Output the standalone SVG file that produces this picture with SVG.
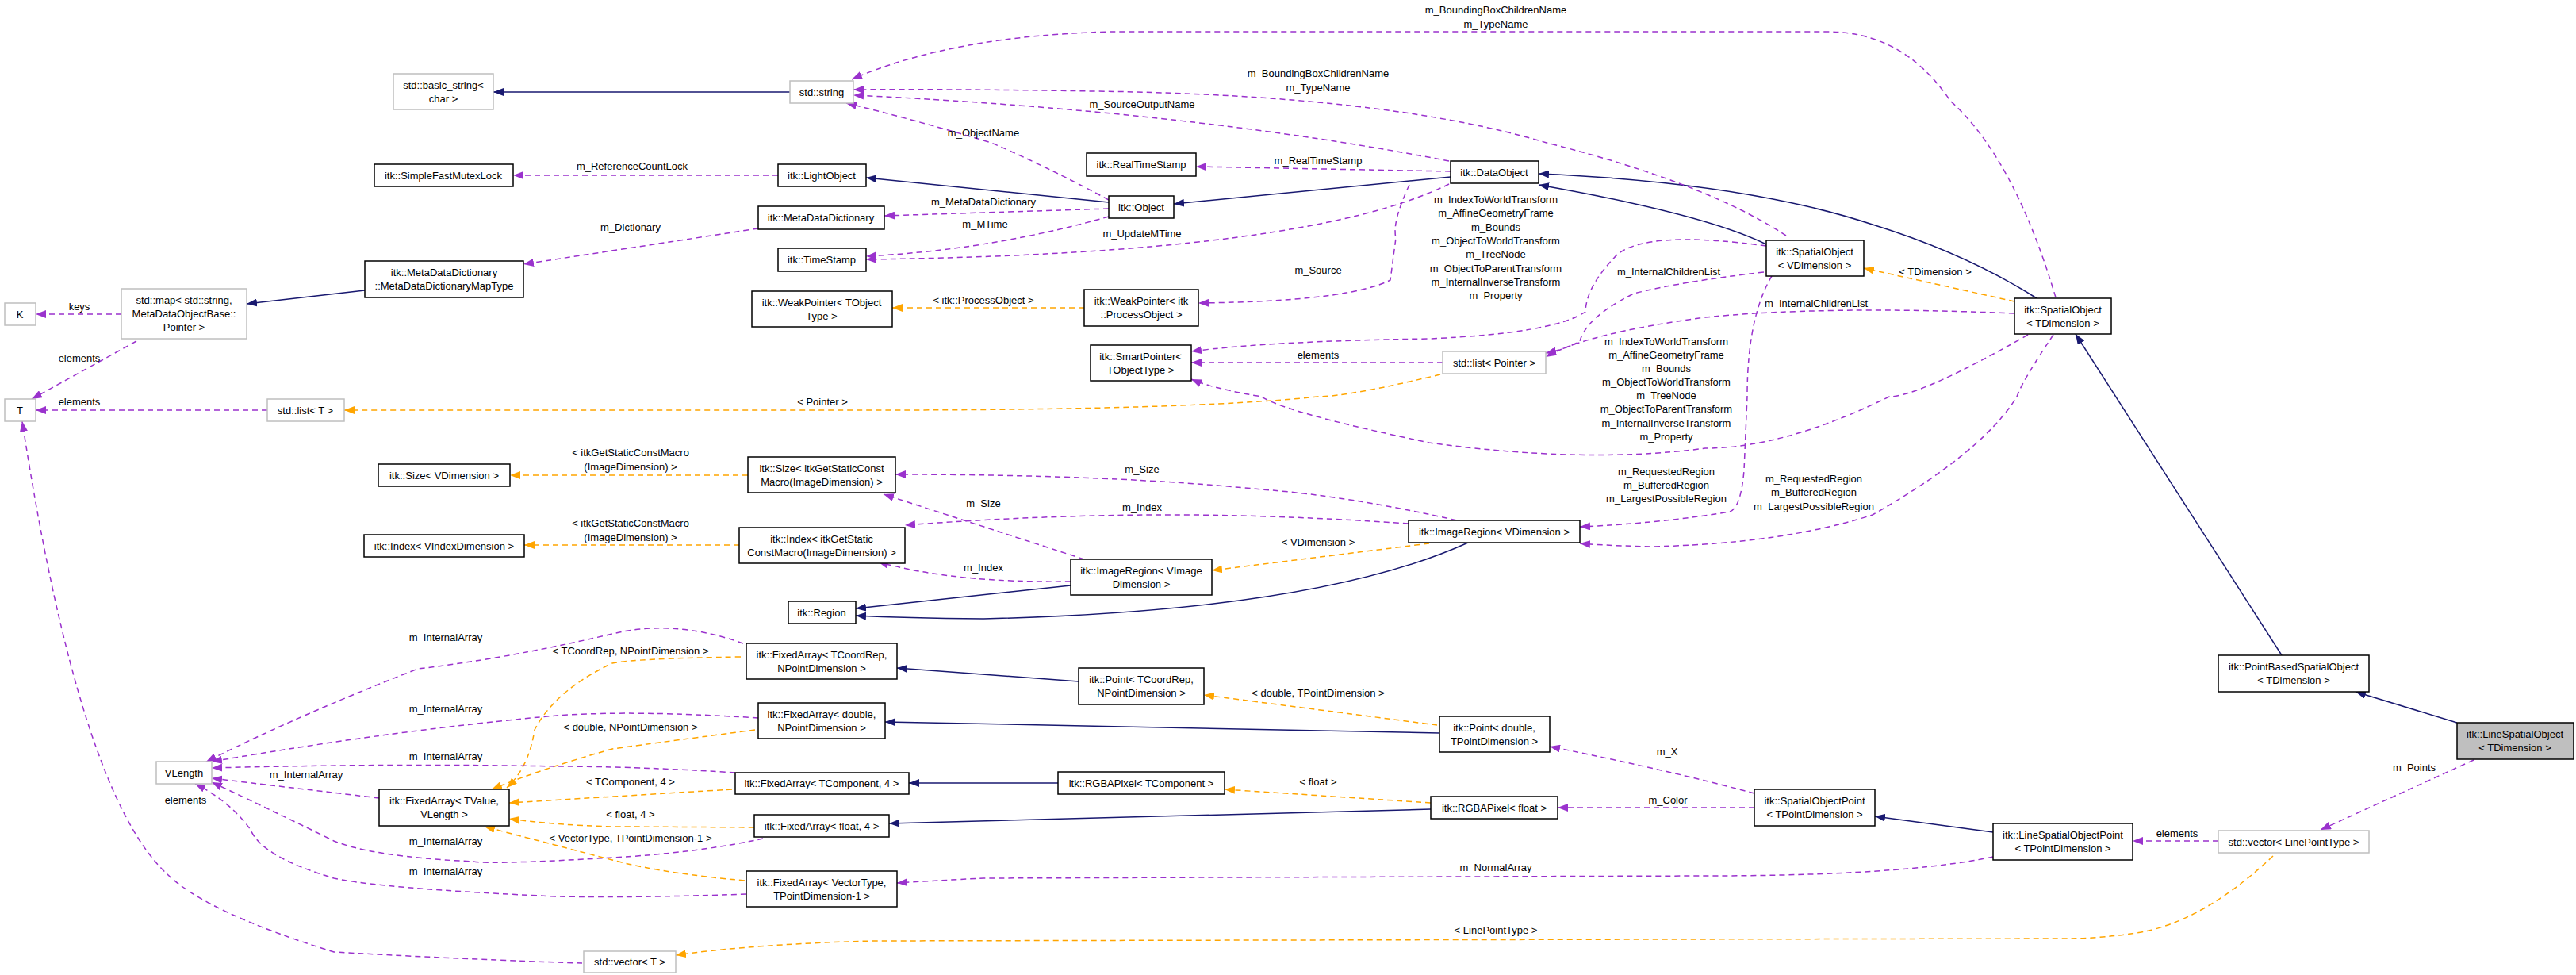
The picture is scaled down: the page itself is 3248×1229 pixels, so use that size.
<svg xmlns="http://www.w3.org/2000/svg" width="3248" height="1229" viewBox="0 0 3248 1229">
<style>
text{font-family:"Liberation Sans",Arial,sans-serif;font-size:13px;fill:#000;text-anchor:middle}
.n rect{fill:#fff;stroke:#000;stroke-width:1.5}
.g rect{fill:#fff;stroke:#bfbfbf;stroke-width:1.5}
.h rect{fill:#bfbfbf;stroke:#000;stroke-width:1.5}
.i{fill:none;stroke:#191970;stroke-width:1.5;marker-end:url(#ai)}
.u{fill:none;stroke:#9a32cd;stroke-width:1.5;stroke-dasharray:7,5;marker-end:url(#au)}
.t{fill:none;stroke:#ffa500;stroke-width:1.5;stroke-dasharray:7,5;marker-end:url(#at)}
</style>
<defs>
<marker id="ai" markerUnits="userSpaceOnUse" markerWidth="14" markerHeight="10" refX="13" refY="5" orient="auto"><path d="M0,0L13,5L0,10z" fill="#191970"/></marker>
<marker id="au" markerUnits="userSpaceOnUse" markerWidth="14" markerHeight="10" refX="13" refY="5" orient="auto"><path d="M0,0L13,5L0,10z" fill="#9a32cd"/></marker>
<marker id="at" markerUnits="userSpaceOnUse" markerWidth="14" markerHeight="10" refX="13" refY="5" orient="auto"><path d="M0,0L13,5L0,10z" fill="#ffa500"/></marker>
</defs>
<rect width="3248" height="1229" fill="#fff"/>
<g id="edges">
<path class="i" d="M996,116L622,116"/>
<path class="i" d="M1398,255L1092,224"/>
<path class="i" d="M1829,223L1480,257"/>
<path class="i" d="M2227,308Q2150,270 1940,233"/>
<path class="i" d="M2568,376Q2480,320 2361,283Q2200,230 1940,219"/>
<path class="i" d="M2877,826L2617,421"/>
<path class="i" d="M3098,911L2970,872"/>
<path class="i" d="M1851,684Q1662,770 1240,780Q1140,779 1079,776"/>
<path class="i" d="M1350,738L1079,767"/>
<path class="i" d="M1360,859L1131,842"/>
<path class="i" d="M1815,924L1116,910"/>
<path class="i" d="M1334,987L1146,987"/>
<path class="i" d="M1804,1020L1121,1038"/>
<path class="i" d="M2513,1049L2364,1029"/>
<path class="i" d="M460,366L311,383"/>
<path class="u" d="M981,221L647,221"/>
<path class="u" d="M1398,263L1115,272"/>
<path class="u" d="M956,288L660,333"/>
<path class="u" d="M1398,273Q1250,315 1092,323"/>
<path class="u" d="M1827,232Q1650,320 1092,327"/>
<path class="u" d="M1398,252Q1320,210 1250,180Q1150,150 1067,130"/>
<path class="u" d="M1827,203Q1500,140 1076,120"/>
<path class="u" d="M2252,297Q2150,230 1950,180Q1750,120 1381,115Q1200,112 1076,113"/>
<path class="u" d="M2592,375Q2540,200 2459,127Q2400,40 2304,40L1402,40Q1200,45 1074,100"/>
<path class="u" d="M1829,216L1508,210"/>
<path class="u" d="M1777,233Q1755,280 1760,300L1753,353Q1700,380 1511,382"/>
<path class="t" d="M1367,388L1125,388"/>
<path class="u" d="M2227,310Q2080,290 2040,320Q2000,360 1999,393Q1960,420 1802,427Q1600,430 1502,443"/>
<path class="u" d="M2224,343Q2120,355 2060,370Q2000,400 1992,430Q1975,440 1949,445"/>
<path class="u" d="M2540,395Q2300,385 2150,400Q2000,420 1949,450"/>
<path class="u" d="M2557,422Q2420,500 2382,500Q2250,565 2150,565Q2000,585 1802,558Q1620,520 1591,500Q1530,490 1502,478"/>
<path class="u" d="M1819,457L1502,457"/>
<path class="t" d="M1816,472Q1700,500 1661,500Q1500,517 1100,517L434,517"/>
<path class="u" d="M337,517L45,517"/>
<path class="u" d="M172,430L40,503"/>
<path class="u" d="M153,396L45,396"/>
<path class="u" d="M1837,656Q1700,625 1591,617Q1400,598 1129,598"/>
<path class="u" d="M1776,660Q1600,648 1451,649Q1300,650 1141,662"/>
<path class="u" d="M1367,705L1114,623"/>
<path class="u" d="M1350,733Q1200,735 1107,708"/>
<path class="t" d="M1802,685L1528,719"/>
<path class="t" d="M943,599L643,599"/>
<path class="t" d="M932,687L661,687"/>
<path class="u" d="M2234,348Q2203,400 2203,500L2199,593Q2195,640 2181,645Q2090,660 1992,664"/>
<path class="u" d="M2589,422Q2550,480 2543,500Q2500,570 2361,649Q2250,685 2083,689Q2030,688 1992,685"/>
<path class="t" d="M2540,380L2350,338"/>
<path class="u" d="M937,811Q850,780 772,799Q640,830 527,843Q380,900 260,960"/>
<path class="t" d="M934,828Q800,830 772,836Q700,870 674,920Q667,967 639,993"/>
<path class="u" d="M956,905Q800,895 702,902Q500,920 267,960"/>
<path class="t" d="M952,920Q800,940 772,944Q680,970 620,995"/>
<path class="u" d="M927,974Q800,966 702,966Q500,962 267,968"/>
<path class="t" d="M923,995L642,1012"/>
<path class="u" d="M962,1057Q880,1075 772,1081Q620,1090 597,1086Q470,1080 421,1060Q340,1020 267,986"/>
<path class="t" d="M951,1043Q800,1042 772,1042Q700,1040 642,1032"/>
<path class="u" d="M941,1127Q800,1132 702,1130Q480,1120 421,1107Q330,1080 316,1046Q290,1010 246,988"/>
<path class="t" d="M939,1110Q830,1100 772,1084Q680,1060 611,1042"/>
<path class="u" d="M478,1006L267,981"/>
<path class="u" d="M734,1214Q600,1210 421,1200Q260,1150 211,1102Q100,1000 28,531"/>
<path class="t" d="M2866,1079Q2780,1160 2700,1175Q2650,1183 2606,1183L1100,1186Q950,1190 852,1204"/>
<path class="u" d="M3119,958L2926,1046"/>
<path class="u" d="M2797,1060L2689,1060"/>
<path class="u" d="M2212,1000Q2100,970 1954,941"/>
<path class="u" d="M2212,1018L1964,1018"/>
<path class="u" d="M2513,1080Q2400,1104 2150,1104L1240,1107Q1180,1110 1131,1113"/>
<path class="t" d="M1812,914L1518,876"/>
<path class="t" d="M1804,1012L1544,995"/>
</g>
<g id="labels">
<text x="797" y="214">m_ReferenceCountLock</text>
<text x="1240" y="259">m_MetaDataDictionary</text>
<text x="795" y="291">m_Dictionary</text>
<text x="1242" y="287">m_MTime</text>
<text x="1440" y="299">m_UpdateMTime</text>
<text x="1240" y="172">m_ObjectName</text>
<text x="1440" y="136">m_SourceOutputName</text>
<text x="1662" y="97">m_BoundingBoxChildrenName</text>
<text x="1662" y="115">m_TypeName</text>
<text x="1886" y="17">m_BoundingBoxChildrenName</text>
<text x="1886" y="35">m_TypeName</text>
<text x="1662" y="207">m_RealTimeStamp</text>
<text x="1662" y="345">m_Source</text>
<text x="1240" y="383">&lt; itk::ProcessObject &gt;</text>
<text x="1886" y="256">m_IndexToWorldTransform</text>
<text x="1886" y="273">m_AffineGeometryFrame</text>
<text x="1886" y="291">m_Bounds</text>
<text x="1886" y="308">m_ObjectToWorldTransform</text>
<text x="1886" y="325">m_TreeNode</text>
<text x="1886" y="343">m_ObjectToParentTransform</text>
<text x="1886" y="360">m_InternalInverseTransform</text>
<text x="1886" y="377">m_Property</text>
<text x="2104" y="347">m_InternalChildrenList</text>
<text x="2290" y="387">m_InternalChildrenList</text>
<text x="2101" y="435">m_IndexToWorldTransform</text>
<text x="2101" y="452">m_AffineGeometryFrame</text>
<text x="2101" y="469">m_Bounds</text>
<text x="2101" y="486">m_ObjectToWorldTransform</text>
<text x="2101" y="503">m_TreeNode</text>
<text x="2101" y="520">m_ObjectToParentTransform</text>
<text x="2101" y="538">m_InternalInverseTransform</text>
<text x="2101" y="555">m_Property</text>
<text x="1662" y="452">elements</text>
<text x="1037" y="511">&lt; Pointer &gt;</text>
<text x="100" y="511">elements</text>
<text x="100" y="456">elements</text>
<text x="100" y="391">keys</text>
<text x="1440" y="596">m_Size</text>
<text x="1440" y="644">m_Index</text>
<text x="1240" y="639">m_Size</text>
<text x="1240" y="720">m_Index</text>
<text x="1662" y="688">&lt; VDimension &gt;</text>
<text x="795" y="575">&lt; itkGetStaticConstMacro</text>
<text x="795" y="593">(ImageDimension) &gt;</text>
<text x="795" y="664">&lt; itkGetStaticConstMacro</text>
<text x="795" y="682">(ImageDimension) &gt;</text>
<text x="2101" y="599">m_RequestedRegion</text>
<text x="2101" y="616">m_BufferedRegion</text>
<text x="2101" y="633">m_LargestPossibleRegion</text>
<text x="2287" y="608">m_RequestedRegion</text>
<text x="2287" y="625">m_BufferedRegion</text>
<text x="2287" y="643">m_LargestPossibleRegion</text>
<text x="2440" y="347">&lt; TDimension &gt;</text>
<text x="562" y="808">m_InternalArray</text>
<text x="795" y="825">&lt; TCoordRep, NPointDimension &gt;</text>
<text x="562" y="898">m_InternalArray</text>
<text x="795" y="921">&lt; double, NPointDimension &gt;</text>
<text x="562" y="958">m_InternalArray</text>
<text x="386" y="981">m_InternalArray</text>
<text x="795" y="990">&lt; TComponent, 4 &gt;</text>
<text x="795" y="1031">&lt; float, 4 &gt;</text>
<text x="562" y="1065">m_InternalArray</text>
<text x="795" y="1061">&lt; VectorType, TPointDimension-1 &gt;</text>
<text x="562" y="1103">m_InternalArray</text>
<text x="234" y="1013">elements</text>
<text x="1886" y="1177">&lt; LinePointType &gt;</text>
<text x="3044" y="972">m_Points</text>
<text x="2745" y="1055">elements</text>
<text x="2102" y="952">m_X</text>
<text x="2103" y="1013">m_Color</text>
<text x="1886" y="1098">m_NormalArray</text>
<text x="1662" y="878">&lt; double, TPointDimension &gt;</text>
<text x="1662" y="990">&lt; float &gt;</text>
</g>
<g id="n_basic" class="g"><rect x="496" y="93" width="126" height="45"/><text x="559" y="112">std::basic_string&lt;</text><text x="559" y="129">char &gt;</text></g>
<g id="n_string" class="g"><rect x="996" y="102" width="80" height="28"/><text x="1036" y="121">std::string</text></g>
<g id="n_mutex" class="n"><rect x="472" y="207" width="175" height="28"/><text x="559" y="226">itk::SimpleFastMutexLock</text></g>
<g id="n_light" class="n"><rect x="981" y="207" width="111" height="28"/><text x="1036" y="226">itk::LightObject</text></g>
<g id="n_mdd" class="n"><rect x="956" y="260" width="159" height="29"/><text x="1035" y="279">itk::MetaDataDictionary</text></g>
<g id="n_ts" class="n"><rect x="981" y="313" width="111" height="29"/><text x="1036" y="332">itk::TimeStamp</text></g>
<g id="n_wp" class="n"><rect x="948" y="367" width="177" height="45"/><text x="1036" y="386">itk::WeakPointer&lt; TObject</text><text x="1036" y="403">Type &gt;</text></g>
<g id="n_maptype" class="n"><rect x="460" y="329" width="200" height="46"/><text x="560" y="348">itk::MetaDataDictionary</text><text x="560" y="365">::MetaDataDictionaryMapType</text></g>
<g id="n_map" class="g"><rect x="153" y="364" width="158" height="63"/><text x="232" y="383">std::map&lt; std::string,</text><text x="232" y="400">MetaDataObjectBase::</text><text x="232" y="417">Pointer &gt;</text></g>
<g id="n_K" class="g"><rect x="6" y="382" width="39" height="28"/><text x="25" y="401">K</text></g>
<g id="n_rts" class="n"><rect x="1370" y="193" width="138" height="29"/><text x="1439" y="212">itk::RealTimeStamp</text></g>
<g id="n_data" class="n"><rect x="1829" y="203" width="111" height="28"/><text x="1884" y="222">itk::DataObject</text></g>
<g id="n_obj" class="n"><rect x="1398" y="247" width="82" height="28"/><text x="1439" y="266">itk::Object</text></g>
<g id="n_wpp" class="n"><rect x="1367" y="365" width="144" height="46"/><text x="1439" y="384">itk::WeakPointer&lt; itk</text><text x="1439" y="401">::ProcessObject &gt;</text></g>
<g id="n_sp" class="n"><rect x="1375" y="435" width="127" height="45"/><text x="1438" y="454">itk::SmartPointer&lt;</text><text x="1438" y="471">TObjectType &gt;</text></g>
<g id="n_listp" class="g"><rect x="1819" y="443" width="130" height="28"/><text x="1884" y="462">std::list&lt; Pointer &gt;</text></g>
<g id="n_sov" class="n"><rect x="2227" y="303" width="123" height="45"/><text x="2288" y="322">itk::SpatialObject</text><text x="2288" y="339">&lt; VDimension &gt;</text></g>
<g id="n_sot" class="n"><rect x="2540" y="376" width="122" height="45"/><text x="2601" y="395">itk::SpatialObject</text><text x="2601" y="412">&lt; TDimension &gt;</text></g>
<g id="n_T" class="g"><rect x="6" y="503" width="39" height="28"/><text x="25" y="522">T</text></g>
<g id="n_listT" class="g"><rect x="337" y="503" width="97" height="28"/><text x="385" y="522">std::list&lt; T &gt;</text></g>
<g id="n_sizeV" class="n"><rect x="477" y="585" width="166" height="28"/><text x="560" y="604">itk::Size&lt; VDimension &gt;</text></g>
<g id="n_idxV" class="n"><rect x="459" y="674" width="202" height="28"/><text x="560" y="693">itk::Index&lt; VIndexDimension &gt;</text></g>
<g id="n_region" class="n"><rect x="994" y="758" width="85" height="28"/><text x="1036" y="777">itk::Region</text></g>
<g id="n_vlen" class="g"><rect x="197" y="960" width="70" height="28"/><text x="232" y="979">VLength</text></g>
<g id="n_fatv" class="n"><rect x="478" y="995" width="164" height="46"/><text x="560" y="1014">itk::FixedArray&lt; TValue,</text><text x="560" y="1031">VLength &gt;</text></g>
<g id="n_vecT" class="g"><rect x="736" y="1199" width="116" height="27"/><text x="794" y="1217">std::vector&lt; T &gt;</text></g>
<g id="n_sizeM" class="n"><rect x="943" y="576" width="186" height="45"/><text x="1036" y="595">itk::Size&lt; itkGetStaticConst</text><text x="1036" y="612">Macro(ImageDimension) &gt;</text></g>
<g id="n_idxM" class="n"><rect x="932" y="665" width="209" height="45"/><text x="1036" y="684">itk::Index&lt; itkGetStatic</text><text x="1036" y="701">ConstMacro(ImageDimension) &gt;</text></g>
<g id="n_facr" class="n"><rect x="941" y="811" width="190" height="45"/><text x="1036" y="830">itk::FixedArray&lt; TCoordRep,</text><text x="1036" y="847">NPointDimension &gt;</text></g>
<g id="n_fad" class="n"><rect x="956" y="886" width="160" height="45"/><text x="1036" y="905">itk::FixedArray&lt; double,</text><text x="1036" y="922">NPointDimension &gt;</text></g>
<g id="n_fatc" class="n"><rect x="927" y="974" width="219" height="27"/><text x="1036" y="992">itk::FixedArray&lt; TComponent, 4 &gt;</text></g>
<g id="n_faf" class="n"><rect x="951" y="1027" width="170" height="28"/><text x="1036" y="1046">itk::FixedArray&lt; float, 4 &gt;</text></g>
<g id="n_favt" class="n"><rect x="941" y="1098" width="190" height="45"/><text x="1036" y="1117">itk::FixedArray&lt; VectorType,</text><text x="1036" y="1134">TPointDimension-1 &gt;</text></g>
<g id="n_irv" class="n"><rect x="1776" y="656" width="216" height="28"/><text x="1884" y="675">itk::ImageRegion&lt; VDimension &gt;</text></g>
<g id="n_iri" class="n"><rect x="1350" y="705" width="178" height="45"/><text x="1439" y="724">itk::ImageRegion&lt; VImage</text><text x="1439" y="741">Dimension &gt;</text></g>
<g id="n_ptcr" class="n"><rect x="1360" y="842" width="158" height="46"/><text x="1439" y="861">itk::Point&lt; TCoordRep,</text><text x="1439" y="878">NPointDimension &gt;</text></g>
<g id="n_ptd" class="n"><rect x="1815" y="903" width="139" height="45"/><text x="1884" y="922">itk::Point&lt; double,</text><text x="1884" y="939">TPointDimension &gt;</text></g>
<g id="n_rgbt" class="n"><rect x="1334" y="973" width="210" height="28"/><text x="1439" y="992">itk::RGBAPixel&lt; TComponent &gt;</text></g>
<g id="n_rgbf" class="n"><rect x="1804" y="1004" width="160" height="28"/><text x="1884" y="1023">itk::RGBAPixel&lt; float &gt;</text></g>
<g id="n_pbso" class="n"><rect x="2797" y="826" width="190" height="46"/><text x="2892" y="845">itk::PointBasedSpatialObject</text><text x="2892" y="862">&lt; TDimension &gt;</text></g>
<g id="n_lso" class="h"><rect x="3098" y="911" width="147" height="46"/><text x="3171" y="930">itk::LineSpatialObject</text><text x="3171" y="947">&lt; TDimension &gt;</text></g>
<g id="n_sop" class="n"><rect x="2212" y="995" width="152" height="46"/><text x="2288" y="1014">itk::SpatialObjectPoint</text><text x="2288" y="1031">&lt; TPointDimension &gt;</text></g>
<g id="n_lsop" class="n"><rect x="2513" y="1038" width="176" height="46"/><text x="2601" y="1057">itk::LineSpatialObjectPoint</text><text x="2601" y="1074">&lt; TPointDimension &gt;</text></g>
<g id="n_vecl" class="g"><rect x="2797" y="1047" width="190" height="28"/><text x="2892" y="1066">std::vector&lt; LinePointType &gt;</text></g>
</svg>
